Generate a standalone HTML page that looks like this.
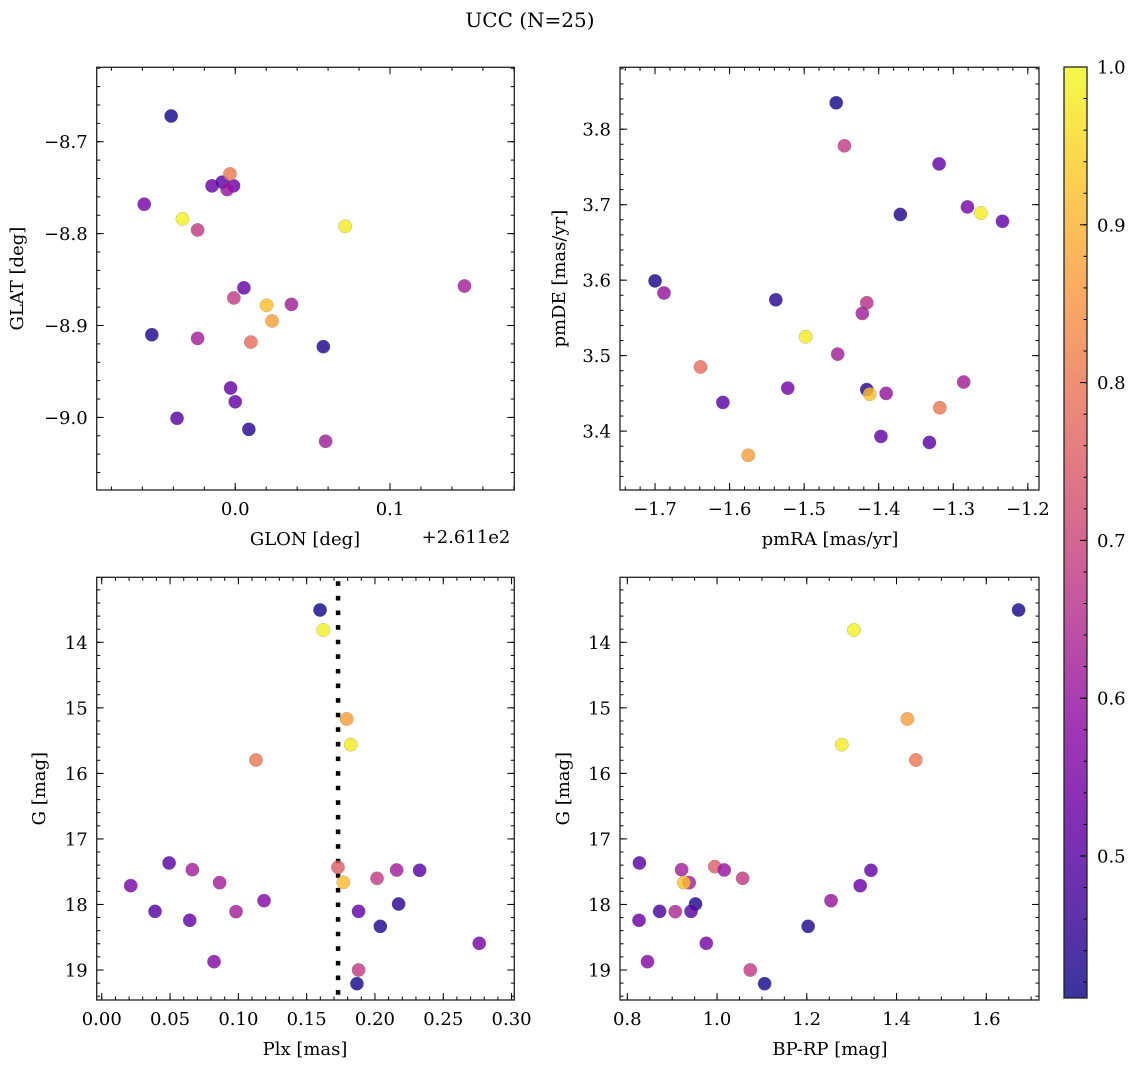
<!DOCTYPE html>
<html><head><meta charset="utf-8">
<style>
html,body{margin:0;padding:0;background:#fff;}
svg{display:block;font-family:"DejaVu Serif","Liberation Serif",serif;}
</style></head>
<body>
<svg id="fig" width="1136" height="1067" viewBox="0 0 1136 1067" xmlns="http://www.w3.org/2000/svg">
<text x="530" y="27" font-size="20" text-anchor="middle">UCC (N=25)</text>
</svg>
<script>
// ---- data ----
const glon = [-0.0414,-0.0588,-0.0341,-0.0243,-0.0150,-0.0084,-0.0011,-0.0052,-0.0034,0.0710,0.1481,0.0056,-0.0009,0.0202,0.0238,0.0363,-0.0539,-0.0243,0.0101,0.0569,-0.0030,0.0000,-0.0376,0.0088,0.0584];
const glat = [-8.672,-8.768,-8.784,-8.796,-8.748,-8.744,-8.748,-8.752,-8.735,-8.792,-8.857,-8.859,-8.870,-8.878,-8.895,-8.877,-8.910,-8.914,-8.918,-8.923,-8.968,-8.983,-9.001,-9.013,-9.026];
const probTL = [0.42,0.55,0.99,0.68,0.53,0.50,0.53,0.60,0.80,0.98,0.62,0.52,0.68,0.92,0.87,0.62,0.43,0.62,0.78,0.43,0.52,0.52,0.50,0.44,0.62];

const pmra = [-1.457,-1.446,-1.319,-1.281,-1.263,-1.234,-1.371,-1.700,-1.688,-1.538,-1.416,-1.422,-1.498,-1.455,-1.639,-1.522,-1.416,-1.412,-1.390,-1.286,-1.609,-1.318,-1.397,-1.332,-1.575];
const pmde = [3.835,3.778,3.754,3.697,3.689,3.678,3.687,3.599,3.583,3.574,3.570,3.556,3.525,3.502,3.485,3.457,3.455,3.449,3.450,3.465,3.438,3.431,3.393,3.385,3.368];
const probTR = [0.42,0.68,0.52,0.55,0.98,0.52,0.43,0.43,0.60,0.44,0.66,0.62,0.98,0.62,0.78,0.55,0.44,0.92,0.60,0.62,0.50,0.80,0.52,0.50,0.87];

const plx = [0.1598,0.1622,0.1793,0.1822,0.1129,0.1729,0.1768,0.0493,0.0663,0.0212,0.0863,0.1188,0.0390,0.0983,0.0644,0.0822,0.2015,0.2159,0.2327,0.2173,0.1880,0.2039,0.2763,0.1880,0.1868];
const gmagBL = [13.507,13.812,15.170,15.562,15.796,17.433,17.662,17.367,17.469,17.713,17.667,17.942,18.105,18.110,18.242,18.873,17.601,17.474,17.479,17.993,18.105,18.334,18.593,19.000,19.209];
const probBL = [0.42,0.99,0.87,0.98,0.80,0.75,0.92,0.50,0.62,0.55,0.62,0.57,0.50,0.62,0.52,0.57,0.68,0.62,0.50,0.44,0.52,0.43,0.55,0.68,0.42];
const plxLine = 0.173;

const bprp = [1.672,1.305,1.424,1.278,1.443,0.827,0.921,0.995,1.016,1.057,0.938,0.926,1.343,1.319,1.254,0.952,0.872,0.907,0.942,0.826,1.203,0.976,0.845,1.074,1.106];
const gmagBR = [13.507,13.812,15.170,15.562,15.796,17.367,17.469,17.423,17.474,17.601,17.667,17.667,17.479,17.713,17.942,17.993,18.105,18.110,18.105,18.242,18.334,18.593,18.873,19.000,19.209];
const probBR = [0.42,0.99,0.87,0.98,0.80,0.50,0.62,0.75,0.60,0.68,0.62,0.92,0.52,0.53,0.60,0.43,0.48,0.64,0.50,0.53,0.43,0.55,0.57,0.68,0.42];

const cbTicks = [0.5,0.6,0.7,0.8,0.9,1.0];
const cMin = 0.41, cMax = 1.0;

// ---- helpers ----
const NS = "http://www.w3.org/2000/svg";
const svg = document.getElementById('fig');
function mk(tag, attrs, parent){const e=document.createElementNS(NS,tag);for(const k in attrs)e.setAttribute(k,attrs[k]);(parent||svg).appendChild(e);return e;}
const stops=[[13,8,135],[65,4,157],[106,0,168],[143,13,164],[177,42,144],[204,71,120],[225,100,98],[242,132,75],[252,166,54],[252,206,37],[240,249,33]];
function plasma(t){t=Math.max(0,Math.min(1,t));const f=t*10,i=Math.min(9,Math.floor(f)),r=f-i;const a=stops[i],b=stops[i+1];return 'rgb('+[0,1,2].map(k=>Math.round(a[k]+(b[k]-a[k])*r)).join(',')+')';}
function cmap(v){return plasma((v-cMin)/(cMax-cMin));}
function fmt(v,d){const s=v.toFixed(d);return s.replace('-','\u2212');}

function panel(cfg){
  const g=mk('g',{});
  
  
  const {L,R,T,B,xmin,xmax,ymin,ymax,inv}=cfg;
  const sx=v=>L+(v-xmin)/(xmax-xmin)*(R-L);
  const sy=v=>inv? T+(v-ymin)/(ymax-ymin)*(B-T) : B-(v-ymin)/(ymax-ymin)*(B-T);
  const tg=mk('g',{stroke:'#000','stroke-width':1},g);
  const eps=1e-9;
  for(let v=Math.ceil(xmin/cfg.xminor-eps)*cfg.xminor; v<=xmax+eps; v+=cfg.xminor){const x=sx(v);mk('line',{x1:x,x2:x,y1:B,y2:B-3.5},tg);mk('line',{x1:x,x2:x,y1:T,y2:T+3.5},tg);}
  for(let v=Math.ceil(ymin/cfg.yminor-eps)*cfg.yminor; v<=ymax+eps; v+=cfg.yminor){const y=sy(v);mk('line',{x1:L,x2:L+3.5,y1:y,y2:y},tg);mk('line',{x1:R,x2:R-3.5,y1:y,y2:y},tg);}
  cfg.xticks.forEach(v=>{const x=sx(v);mk('line',{x1:x,x2:x,y1:B,y2:B-7},tg);mk('line',{x1:x,x2:x,y1:T,y2:T+7},tg);
    const t=mk('text',{x:x,y:B+25,'font-size':18,'text-anchor':'middle',stroke:'none',fill:'#000'},g);t.textContent=fmt(v,cfg.xd);
    
    });
  cfg.yticks.forEach(v=>{const y=sy(v);mk('line',{x1:L,x2:L+7,y1:y,y2:y},tg);mk('line',{x1:R,x2:R-7,y1:y,y2:y},tg);
    const t=mk('text',{x:L-9,y:y+6.5,'font-size':18,'text-anchor':'end',fill:'#000'},g);t.textContent=fmt(v,cfg.yd);
    
    });
  if(cfg.vline!==undefined){const x=sx(cfg.vline);const l=mk('line',{x1:x,x2:x,y1:T+4,y2:B,stroke:'#000','stroke-width':4.5,'stroke-dasharray':'4.6 10'},g);
    
    }
  const pg=mk('g',{},g);
  cfg.xs.forEach((v,i)=>{const c=mk('circle',{cx:sx(v),cy:sy(cfg.ys[i]),r:6.7,fill:cmap(cfg.cs[i]),'fill-opacity':0.82,stroke:'#777','stroke-width':0.4,'stroke-opacity':0.6},pg);
    
    });
  const fr=mk('rect',{x:L,y:T,width:R-L,height:B-T,fill:'none',stroke:'#222','stroke-width':1.3},g);
  
  
  const xl=mk('text',{x:cfg.xlx,y:B+55,'font-size':18,'text-anchor':'middle'},g);xl.textContent=cfg.xlabel;
  
  
  const yx=cfg.ylx, yy=(T+B)/2;
  const yl=mk('text',{x:yx,y:yy,'font-size':18,'text-anchor':'middle',transform:`rotate(-90 ${yx} ${yy})`},g);yl.textContent=cfg.ylabel;
  
  
}

panel({name:'glon-glat-panel',L:96.7,R:514.3,T:67.3,B:490,xmin:-0.0895,xmax:0.1803,ymin:-9.079,ymax:-8.619,
  xticks:[0.0,0.1],yticks:[-9.0,-8.9,-8.8,-8.7],xminor:0.02,yminor:0.02,xd:1,yd:1,
  xs:glon,ys:glat,cs:probTL,xlabel:'GLON [deg]',xlx:305,ylabel:'GLAT [deg]',ylx:23});
const off=mk('text',{x:466,y:543,'font-size':18,'text-anchor':'middle'});off.textContent='+2.611e2';



panel({name:'proper-motion-panel',L:620,R:1039,T:67.3,B:490,xmin:-1.747,xmax:-1.185,ymin:3.322,ymax:3.882,
  xticks:[-1.7,-1.6,-1.5,-1.4,-1.3,-1.2],yticks:[3.4,3.5,3.6,3.7,3.8],xminor:0.02,yminor:0.02,xd:1,yd:1,
  xs:pmra,ys:pmde,cs:probTR,xlabel:'pmRA [mas/yr]',xlx:830,ylabel:'pmDE [mas/yr]',ylx:565});

panel({name:'parallax-magnitude-panel',L:96.7,R:514.3,T:577.3,B:1000,xmin:-0.0037,xmax:0.302,ymin:13.008,ymax:19.458,inv:true,
  xticks:[0,0.05,0.1,0.15,0.2,0.25,0.3],yticks:[14,15,16,17,18,19],xminor:0.01,yminor:0.2,xd:2,yd:0,
  xs:plx,ys:gmagBL,cs:probBL,vline:plxLine,xlabel:'Plx [mas]',xlx:305,ylabel:'G [mag]',ylx:45});

panel({name:'color-magnitude-panel',L:620,R:1039,T:577.3,B:1000,xmin:0.7837,xmax:1.7175,ymin:13.008,ymax:19.458,inv:true,
  xticks:[0.8,1.0,1.2,1.4,1.6],yticks:[14,15,16,17,18,19],xminor:0.05,yminor:0.2,xd:1,yd:0,
  xs:bprp,ys:gmagBR,cs:probBR,xlabel:'BP-RP [mag]',xlx:830,ylabel:'G [mag]',ylx:569});

// colorbar
(function(){
  const X=1064,W=23,T=67,B=998;
  const g=mk('g',{});
  
  
  const defs=mk('defs',{},g);
  const lg=mk('linearGradient',{id:'cbg',x1:0,y1:1,x2:0,y2:0},defs);
  for(let i=0;i<=20;i++){mk('stop',{offset:i/20,'stop-color':plasma(i/20)},lg);}
  mk('rect',{x:X,y:T,width:W,height:B-T,fill:'url(#cbg)','fill-opacity':0.82},g);
  const sy=v=>B-(v-cMin)/(cMax-cMin)*(B-T);
  for(let v=0.42;v<=1.0001;v+=0.02){const y=sy(v);mk('line',{x1:X+W,x2:X+W-3.5,y1:y,y2:y,stroke:'#000','stroke-width':1},g);}
  cbTicks.forEach(v=>{const y=sy(v);mk('line',{x1:X+W,x2:X+W-7,y1:y,y2:y,stroke:'#000','stroke-width':1},g);
    const t=mk('text',{x:X+W+10,y:y+6.5,'font-size':18},g);t.textContent=v.toFixed(1);
    
    });
  mk('rect',{x:X,y:T,width:W,height:B-T,fill:'none',stroke:'#222','stroke-width':1.3},g);
})();
</script>
</body></html>
